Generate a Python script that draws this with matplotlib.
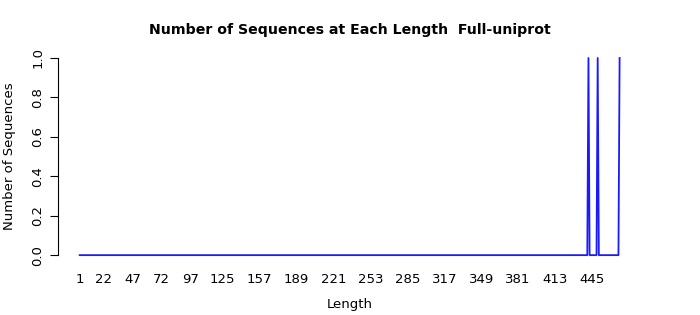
import matplotlib
matplotlib.use("Agg")
import matplotlib.pyplot as plt

# Sequence lengths and counts (zero everywhere except three lengths)
lengths = [1, 441, 442, 443, 449, 450, 451, 468, 469]
counts = [0, 0, 1, 0, 0, 1, 0, 0, 1]

x_labels = [1, 22, 47, 72, 97, 125, 157, 189, 221, 253, 285, 317, 349, 381, 413, 445]
y_ticks = [0.0, 0.2, 0.4, 0.6, 0.8, 1.0]

fig = plt.figure(figsize=(7, 3.15), dpi=100)
ax = fig.add_axes([0.083, 0.165, 0.833, 0.676])

ax.plot(lengths, counts, color="#1a1aff", linewidth=1.3)

span = max(lengths) - min(lengths)
ax.set_xlim(min(lengths) - 0.04 * span, max(lengths) + 0.04 * span)
ax.set_ylim(-0.04, 1.04)

ax.set_xticks(x_labels)
ax.set_xticklabels([str(v) for v in x_labels], fontsize=9.5)
ax.set_yticks(y_ticks)
ax.set_yticklabels(["%.1f" % v for v in y_ticks], fontsize=9.5, rotation=90, va="center")

ax.tick_params(axis="x", length=0, pad=7.5)
ax.tick_params(axis="y", length=5.8, width=0.8, pad=4)

for s in ["top", "right", "bottom"]:
    ax.spines[s].set_visible(False)
ax.spines["left"].set_bounds(0, 1)
ax.spines["left"].set_linewidth(0.8)

ax.set_xlabel("Length", fontsize=9.5, labelpad=8)
ax.set_ylabel("Number of Sequences", fontsize=9.5, labelpad=11)
fig.suptitle("Number of Sequences at Each Length  Full-uniprot", fontsize=10.2,
             fontweight="bold", x=0.5, y=0.905, va="center")

fig.savefig("out.png", dpi=100)
